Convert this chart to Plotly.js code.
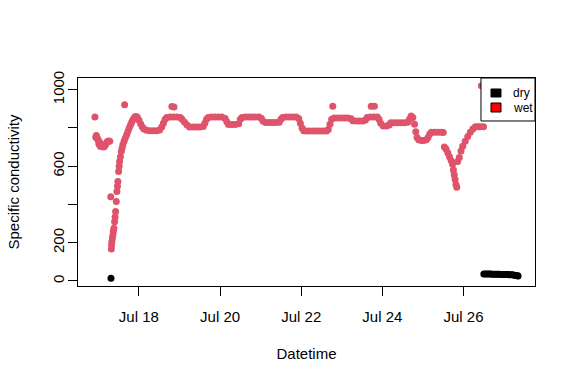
<!DOCTYPE html>
<html><head><meta charset="utf-8">
<script src="https://cdn.plot.ly/plotly-3.0.1.min.js"></script>
<style>html,body{margin:0;padding:0;background:#fff}#chart{width:576px;height:384px}</style>
</head><body><div id="chart"></div>
<script>
// ---- data ----
const wetTime = [
'2021-07-16 22:00','2021-07-16 22:30','2021-07-16 22:50','2021-07-16 23:15','2021-07-16 23:40','2021-07-17 00:00',
'2021-07-17 00:20','2021-07-17 00:45','2021-07-17 01:10','2021-07-17 01:30','2021-07-17 02:15','2021-07-17 03:00',
'2021-07-17 03:45','2021-07-17 04:30','2021-07-17 05:15','2021-07-17 06:00',
'2021-07-17 06:45','2021-07-17 07:20','2021-07-17 07:42','2021-07-17 07:52','2021-07-17 08:02','2021-07-17 08:20',
'2021-07-17 08:38','2021-07-17 08:55','2021-07-17 09:13','2021-07-17 09:38','2021-07-17 09:55','2021-07-17 10:14',
'2021-07-17 10:38','2021-07-17 11:00','2021-07-17 11:20','2021-07-17 11:35','2021-07-17 12:00','2021-07-17 12:20',
'2021-07-17 12:35','2021-07-17 13:05','2021-07-17 13:36','2021-07-17 14:05','2021-07-17 14:32','2021-07-17 15:15',
'2021-07-17 15:33','2021-07-17 15:58','2021-07-17 16:45','2021-07-17 17:30','2021-07-17 18:15','2021-07-17 19:05',
'2021-07-17 19:45','2021-07-17 20:27','2021-07-17 21:10','2021-07-17 21:52','2021-07-17 23:00','2021-07-18 00:00',
'2021-07-18 01:00','2021-07-18 02:00','2021-07-18 03:00','2021-07-18 04:30','2021-07-18 06:30','2021-07-18 08:30',
'2021-07-18 10:30','2021-07-18 12:15','2021-07-18 13:30','2021-07-18 14:30','2021-07-18 15:30','2021-07-18 16:30',
'2021-07-18 18:30','2021-07-18 19:30','2021-07-18 20:30','2021-07-18 20:45','2021-07-18 22:30','2021-07-19 00:30',
'2021-07-19 01:30','2021-07-19 03:00','2021-07-19 04:30','2021-07-19 06:00','2021-07-19 08:00','2021-07-19 10:00',
'2021-07-19 12:00','2021-07-19 14:00','2021-07-19 15:00','2021-07-19 16:00','2021-07-19 17:00','2021-07-19 19:00',
'2021-07-19 21:00','2021-07-19 23:00','2021-07-20 01:00','2021-07-20 03:00','2021-07-20 04:00','2021-07-20 05:00',
'2021-07-20 07:00','2021-07-20 09:00','2021-07-20 11:00','2021-07-20 12:00','2021-07-20 13:00','2021-07-20 15:00',
'2021-07-20 17:00','2021-07-20 19:00','2021-07-20 21:00','2021-07-20 23:00','2021-07-21 00:30','2021-07-21 01:30',
'2021-07-21 03:00','2021-07-21 05:00','2021-07-21 07:00','2021-07-21 09:00','2021-07-21 11:00','2021-07-21 12:00',
'2021-07-21 13:00','2021-07-21 15:00','2021-07-21 17:00','2021-07-21 19:00','2021-07-21 21:00','2021-07-21 22:30',
'2021-07-21 23:30','2021-07-22 00:30','2021-07-22 01:30','2021-07-22 03:00','2021-07-22 05:00','2021-07-22 07:00',
'2021-07-22 09:00','2021-07-22 11:00','2021-07-22 13:00','2021-07-22 15:00','2021-07-22 16:00','2021-07-22 17:00',
'2021-07-22 18:00','2021-07-22 18:40','2021-07-22 19:30','2021-07-22 21:30','2021-07-22 23:30','2021-07-23 01:30',
'2021-07-23 03:30','2021-07-23 05:30','2021-07-23 06:30','2021-07-23 08:30','2021-07-23 10:30','2021-07-23 12:30',
'2021-07-23 14:00','2021-07-23 15:00','2021-07-23 17:00','2021-07-23 17:24','2021-07-23 19:00','2021-07-23 19:18',
'2021-07-23 21:00','2021-07-23 22:00','2021-07-23 23:00','2021-07-24 00:30','2021-07-24 02:30','2021-07-24 04:00',
'2021-07-24 05:00','2021-07-24 07:00','2021-07-24 09:00','2021-07-24 11:00','2021-07-24 13:00','2021-07-24 15:00',
'2021-07-24 16:00','2021-07-24 17:00','2021-07-24 18:00','2021-07-24 19:00','2021-07-24 19:45','2021-07-24 20:30',
'2021-07-24 21:30','2021-07-24 23:00','2021-07-25 00:30','2021-07-25 02:00','2021-07-25 03:00','2021-07-25 04:00',
'2021-07-25 05:00','2021-07-25 07:00','2021-07-25 09:00','2021-07-25 11:00','2021-07-25 12:00','2021-07-25 12:40',
'2021-07-25 13:40','2021-07-25 14:40','2021-07-25 15:40','2021-07-25 16:40','2021-07-25 17:30','2021-07-25 18:00',
'2021-07-25 18:30','2021-07-25 19:00','2021-07-25 19:30','2021-07-25 20:00','2021-07-25 20:30','2021-07-25 21:30',
'2021-07-25 22:30','2021-07-25 23:30','2021-07-26 01:00','2021-07-26 02:30','2021-07-26 04:00','2021-07-26 05:30',
'2021-07-26 07:00','2021-07-26 08:30','2021-07-26 10:00','2021-07-26 10:36','2021-07-26 11:50'
];
const wetValue = [
857,752,760,748,742,735,
716,725,705,712,703,700,
705,718,728,732,
730,440,167,190,206,225,
241,260,276,310,335,363,
415,468,495,520,572,600,
625,650,677,695,712,730,
921,747,765,782,800,817,
830,843,852,860,858,842,
822,805,795,788,785,785,
785,790,805,825,845,855,
858,912,858,910,858,855,
845,830,815,805,805,805,
805,808,825,845,855,857,
857,857,857,850,832,818,
818,818,822,845,855,857,
857,857,857,857,850,835,
828,828,828,828,830,845,
855,857,857,857,857,850,
825,800,786,784,784,784,
784,784,784,784,792,820,
846,914,852,852,852,852,
852,848,838,836,836,836,
842,855,857,914,857,914,
857,845,825,810,810,815,
827,827,827,827,827,830,
845,862,855,820,780,750,
738,735,735,738,750,768,
778,778,778,778,776,700,
690,670,650,630,610,580,
555,530,505,490,625,645,
680,705,730,755,778,795,
806,806,806,1021,806
];
const dryTime = [
'2021-07-17 07:30',
'2021-07-26 12:00','2021-07-26 13:00','2021-07-26 14:00','2021-07-26 15:00','2021-07-26 16:00','2021-07-26 17:00',
'2021-07-26 18:00','2021-07-26 19:00','2021-07-26 20:00','2021-07-26 21:00','2021-07-26 22:00','2021-07-26 23:00',
'2021-07-27 00:00','2021-07-27 01:00','2021-07-27 02:00','2021-07-27 03:00','2021-07-27 04:00','2021-07-27 05:00',
'2021-07-27 06:00','2021-07-27 07:00','2021-07-27 08:00','2021-07-27 08:15'
];
const dryValue = [
14,
37,37,36,36,36,35,
35,35,35,35,34,34,
34,34,34,33,33,32,
30,28,27,26
];
const xTickDates = ['2021-07-18','2021-07-20','2021-07-22','2021-07-24','2021-07-26'];
const xTickLabels = ['Jul 18','Jul 20','Jul 22','Jul 24','Jul 26'];
const yTickVals = [0,200,400,600,800,1000];
const yTickLabels = ['0','200','','600','','1000'];
const legendLabels = ['dry','wet'];
const legendColors = ['#000000','#FF0000'];
const pointColors = {dry:'#000000', wet:'#DF536B'};

// ---- R-style 4% axis padding ----
const toMs = s => Date.parse(s.replace(' ','T') + ':00Z');
const fmt = ms => new Date(ms).toISOString().slice(0,19).replace('T',' ');
const allT = wetTime.concat(dryTime).map(toMs);
const tMin = Math.min(...allT), tMax = Math.max(...allT), tPad = 0.04*(tMax-tMin);
const allV = wetValue.concat(dryValue);
const vMin = Math.min(...allV), vMax = Math.max(...allV), vPad = 0.04*(vMax-vMin);

const font = 'Liberation Sans, Arial, Helvetica, sans-serif';
const traces = [
  {type:'scatter', mode:'markers', x: dryTime, y: dryValue, name:'dry',
   marker:{color:pointColors.dry, size:7, line:{width:0}}, hoverinfo:'skip'},
  {type:'scatter', mode:'markers', x: wetTime, y: wetValue, name:'wet',
   marker:{color:pointColors.wet, size:7, line:{width:0}}, hoverinfo:'skip'}
];

// legend (R-style box, drawn above the points)
const shapes = [
  {type:'rect', xref:'paper', yref:'paper', x0:0.8818, x1:1.0, y0:0.7933, y1:1.0,
   fillcolor:'#ffffff', line:{color:'#000', width:1}, layer:'above'}
];
const annotations = [];
const boxY = [[0.9087,0.9471],[0.8365,0.8798]];
const textY = [0.928, 0.858];
legendLabels.forEach((lab,i) => {
  shapes.push({type:'rect', xref:'paper', yref:'paper', x0:0.9037, x1:0.9256, y0:boxY[i][0], y1:boxY[i][1],
    fillcolor:legendColors[i], line:{color:'#000', width:1}, layer:'above'});
  annotations.push({xref:'paper', yref:'paper', x:0.9475, y:textY[i], xanchor:'left', yanchor:'middle',
    text:lab, showarrow:false, font:{family:font, size:12, color:'#000'}});
});

const layout = {
  width:576, height:384,
  margin:{l:78, r:41, t:78, b:98, pad:0},
  paper_bgcolor:'#fff', plot_bgcolor:'#fff',
  showlegend:false,
  font:{family:font, size:15, color:'#000'},
  xaxis:{type:'date', range:[fmt(tMin-tPad), fmt(tMax+tPad)],
    tickmode:'array', tickvals:xTickDates, ticktext:xTickLabels,
    ticks:'outside', ticklen:9, tickwidth:1, tickcolor:'#000',
    showline:true, linecolor:'#000', linewidth:1, mirror:true,
    showgrid:false, zeroline:false, automargin:false, ticklabelstandoff:8,
    title:{text:'Datetime', font:{family:font, size:15}, standoff:24}},
  yaxis:{range:[vMin-vPad, vMax+vPad],
    tickmode:'array', tickvals:yTickVals, ticktext:yTickLabels, tickangle:-90,
    ticks:'outside', ticklen:9, tickwidth:1, tickcolor:'#000',
    showline:true, linecolor:'#000', linewidth:1, mirror:true,
    showgrid:false, zeroline:false, automargin:false, ticklabelstandoff:-2,
    title:{text:'Specific conductivity', font:{family:font, size:15}, standoff:26}},
  shapes:shapes, annotations:annotations
};
Plotly.newPlot('chart', traces, layout, {staticPlot:true, displayModeBar:false});
</script></body></html>
